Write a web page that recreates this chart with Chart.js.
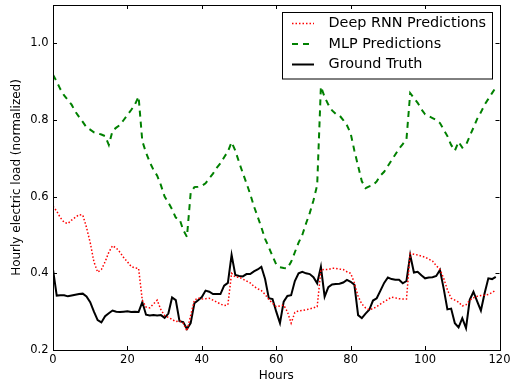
<!DOCTYPE html>
<html>
<head>
<meta charset="utf-8">
<script src="https://cdn.jsdelivr.net/npm/chart.js@4/dist/chart.umd.min.js"></script>
<style>
  body { margin: 0; background: #fff; }
  #wrap { width: 512px; height: 388px; }
</style>
</head>
<body>
<div id="wrap"><canvas id="grafico" width="512" height="388"></canvas></div>
<script>
// valores (0..119 horas)
var groundTruth = [
  0.41, 0.342, 0.343, 0.343, 0.34, 0.342, 0.344, 0.346, 0.347, 0.34,
  0.325, 0.30, 0.278, 0.272, 0.288, 0.296, 0.303, 0.300, 0.299, 0.300,
  0.301, 0.299, 0.300, 0.299, 0.325, 0.292, 0.290, 0.291, 0.290, 0.291,
  0.284, 0.295, 0.337, 0.330, 0.275, 0.273, 0.255, 0.27, 0.322, 0.330,
  0.338, 0.355, 0.352, 0.346, 0.346, 0.346, 0.368, 0.375, 0.448, 0.396,
  0.393, 0.392, 0.398, 0.398, 0.405, 0.41, 0.417, 0.385, 0.335, 0.333,
  0.30, 0.27, 0.326, 0.341, 0.343, 0.38, 0.40, 0.404, 0.40, 0.398,
  0.39, 0.374, 0.417, 0.339, 0.364, 0.371, 0.372, 0.373, 0.376, 0.383,
  0.378, 0.370, 0.291, 0.283, 0.295, 0.305, 0.329, 0.335, 0.355, 0.375,
  0.389, 0.385, 0.383, 0.383, 0.374, 0.38, 0.448, 0.402, 0.404, 0.395,
  0.387, 0.389, 0.39, 0.393, 0.409, 0.36, 0.306, 0.308, 0.27, 0.259,
  0.283, 0.257, 0.331, 0.352, 0.327, 0.303, 0.348, 0.387, 0.385, 0.391
];

var rnnPred = [
  0.575, 0.562, 0.545, 0.533, 0.53, 0.539, 0.546, 0.553, 0.552, 0.52,
  0.48, 0.43, 0.403, 0.41, 0.43, 0.455, 0.472, 0.466, 0.455, 0.441,
  0.43, 0.418, 0.414, 0.413, 0.33, 0.312, 0.31, 0.32, 0.33, 0.305,
  0.29, 0.285, 0.28, 0.274, 0.276, 0.27, 0.25, 0.29, 0.33, 0.336,
  0.333, 0.334, 0.335, 0.33, 0.325, 0.32, 0.316, 0.318, 0.40, 0.39,
  0.39, 0.385, 0.38, 0.375, 0.366, 0.36, 0.355, 0.345, 0.332, 0.322,
  0.313, 0.315, 0.317, 0.30, 0.27, 0.298, 0.302, 0.303, 0.305, 0.307,
  0.31, 0.313, 0.409, 0.41, 0.41, 0.413, 0.413, 0.411, 0.41, 0.404,
  0.40, 0.375, 0.34, 0.32, 0.31, 0.305, 0.308, 0.313, 0.32, 0.326,
  0.332, 0.338, 0.336, 0.334, 0.333, 0.333, 0.452, 0.45, 0.448, 0.445,
  0.442, 0.437, 0.432, 0.42, 0.41, 0.387, 0.357, 0.335, 0.33, 0.325,
  0.315, 0.318, 0.33, 0.336, 0.34, 0.342, 0.343, 0.345, 0.35, 0.356
];

var mlpPred = [
  0.918, 0.9, 0.88, 0.864, 0.852, 0.84, 0.822, 0.808, 0.795, 0.781,
  0.775, 0.768, 0.765, 0.762, 0.758, 0.735, 0.772, 0.78, 0.787, 0.8,
  0.813, 0.826, 0.84, 0.861, 0.745, 0.715, 0.69, 0.67, 0.655, 0.63,
  0.6, 0.585, 0.567, 0.545, 0.542, 0.513, 0.495, 0.61, 0.625, 0.626,
  0.628, 0.635, 0.648, 0.66, 0.675, 0.687, 0.703, 0.718, 0.742, 0.72,
  0.69, 0.662, 0.635, 0.607, 0.575, 0.548, 0.52, 0.49, 0.468, 0.445,
  0.423, 0.416, 0.414, 0.413, 0.43, 0.455, 0.48, 0.5, 0.53, 0.557,
  0.59, 0.63, 0.887, 0.86, 0.84, 0.825, 0.816, 0.812, 0.8, 0.786,
  0.765, 0.72, 0.68, 0.64, 0.622, 0.627, 0.63, 0.64, 0.655, 0.665,
  0.68, 0.695, 0.71, 0.725, 0.737, 0.75, 0.87, 0.857, 0.845, 0.828,
  0.815, 0.81, 0.805, 0.8, 0.792, 0.775, 0.758, 0.735, 0.72, 0.743,
  0.728, 0.735, 0.758, 0.78, 0.803, 0.82, 0.84, 0.855, 0.87, 0.885
];

var horas = groundTruth.map(function (v, i) { return i; });
var xTicks = [0, 20, 40, 60, 80, 100, 120];
var yTicks = [0.2, 0.4, 0.6, 0.8, 1.0];
var nomesSeries = ["Deep RNN Predictions", "MLP Predictions", "Ground Truth"];

function pontos(serie) {
  return serie.map(function (v, i) { return { x: horas[i], y: v }; });
}

var fonte = "DejaVu Sans";

// moldura + ticks para dentro (estilo matplotlib)
var moldura = {
  id: "moldura",
  afterDatasetsDraw: function (chart) {
    var ctx = chart.ctx;
    var a = chart.chartArea;
    var sx = chart.scales.x, sy = chart.scales.y;
    ctx.save();
    ctx.strokeStyle = "#000";
    ctx.lineWidth = 1;
    ctx.beginPath();
    xTicks.forEach(function (t) {
      var px = Math.round(sx.getPixelForValue(t)) + 0.5;
      ctx.moveTo(px, a.bottom); ctx.lineTo(px, a.bottom - 4);
      ctx.moveTo(px, a.top); ctx.lineTo(px, a.top + 4);
    });
    yTicks.forEach(function (t) {
      var py = Math.round(sy.getPixelForValue(t)) + 0.5;
      ctx.moveTo(a.left, py); ctx.lineTo(a.left + 4, py);
      ctx.moveTo(a.right, py); ctx.lineTo(a.right - 4, py);
    });
    ctx.stroke();
    ctx.strokeRect(Math.round(a.left) + 0.5, Math.round(a.top) + 0.5,
      Math.round(a.right - a.left), Math.round(a.bottom - a.top));

    // legenda
    var lx = 282.5, ly = 12.5, lw = 210, lh = 66.5;
    ctx.fillStyle = "#fff";
    ctx.fillRect(lx, ly, lw, lh);
    ctx.strokeRect(lx, ly, lw, lh);
    var linhas = [23.5, 44, 64.5];
    chart.data.datasets.forEach(function (ds, i) {
      ctx.save();
      ctx.strokeStyle = ds.borderColor;
      ctx.lineWidth = ds.borderWidth;
      ctx.setLineDash(ds.borderDash || []);
      ctx.beginPath();
      ctx.moveTo(292, linhas[i]);
      ctx.lineTo(314, linhas[i]);
      ctx.stroke();
      ctx.restore();
      ctx.fillStyle = "#000";
      ctx.font = "14.4px '" + fonte + "'";
      ctx.textBaseline = "middle";
      ctx.textAlign = "left";
      ctx.fillText(ds.label, 328.5, linhas[i]);
    });
    ctx.restore();
  }
};

var ctx1 = document.getElementById("grafico").getContext("2d");

var grafico = new Chart(ctx1, {
  type: "line",
  data: {
    datasets: [
      {
        label: nomesSeries[0],
        data: pontos(rnnPred),
        borderColor: "#ff0000",
        borderWidth: 1.5,
        borderDash: [1.5, 2],
        pointRadius: 0,
        tension: 0,
        fill: false,
      },
      {
        label: nomesSeries[1],
        data: pontos(mlpPred),
        borderColor: "#008000",
        borderWidth: 2,
        borderDash: [6, 5],
        pointRadius: 0,
        tension: 0,
        fill: false,
      },
      {
        label: nomesSeries[2],
        data: pontos(groundTruth),
        borderColor: "#000000",
        borderWidth: 2,
        pointRadius: 0,
        tension: 0,
        fill: false,
      },
    ],
  },
  options: {
    responsive: false,
    animation: false,
    devicePixelRatio: 1,
    layout: { padding: { left: 0, right: 12.5, top: 5, bottom: 0 } },
    plugins: {
      legend: { display: false },
      tooltip: { enabled: false },
    },
    scales: {
      x: {
        type: "linear",
        min: 0,
        max: 120,
        afterBuildTicks: function (scale) {
          scale.ticks = xTicks.map(function (v) { return { value: v }; });
        },
        afterFit: function (scale) {
          scale.height = 38;
          scale.paddingLeft = 0;
          scale.paddingRight = 0;
        },
        grid: { display: false, drawTicks: false },
        border: { display: false },
        ticks: {
          padding: 3,
          maxRotation: 0,
          color: "#000",
          font: { family: fonte, size: 11.5 },
          callback: function (v) { return v; },
        },
        title: {
          display: true,
          text: "Hours",
          color: "#000",
          font: { family: fonte, size: 12 },
          padding: { top: 0, bottom: 5 },
        },
      },
      y: {
        type: "linear",
        min: 0.2,
        max: 1.1,
        afterBuildTicks: function (scale) {
          scale.ticks = yTicks.map(function (v) { return { value: v }; });
        },
        afterFit: function (scale) {
          scale.width = 53;
          scale.paddingTop = 0;
          scale.paddingBottom = 0;
        },
        grid: { display: false, drawTicks: false },
        border: { display: false },
        ticks: {
          padding: 4.5,
          color: "#000",
          font: { family: fonte, size: 11.5 },
          callback: function (v) { return Number(v).toFixed(1); },
        },
        title: {
          display: true,
          text: "Hourly electric load (normalized)",
          color: "#000",
          font: { family: fonte, size: 12 },
          padding: { top: 10, bottom: 0 },
        },
      },
    },
  },
  plugins: [moldura],
});
</script>
</body>
</html>
